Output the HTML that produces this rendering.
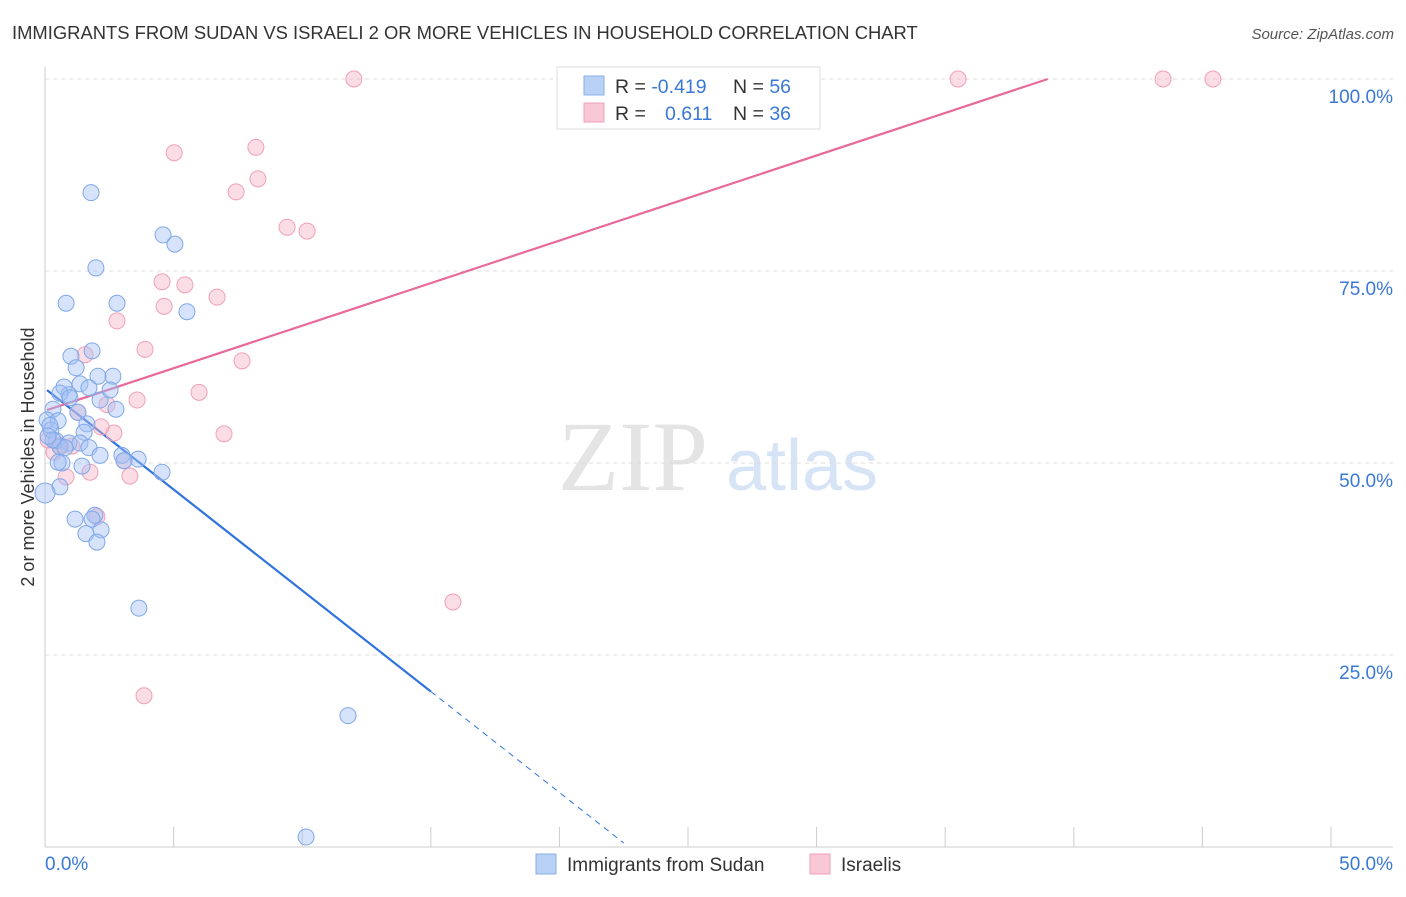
<!DOCTYPE html>
<html><head><meta charset="utf-8"><style>
body{margin:0;background:#fff;font-family:"Liberation Sans",sans-serif;}
</style></head><body>
<svg id="chart" width="1406" height="892" xmlns="http://www.w3.org/2000/svg">
<text x="12" y="39" font-size="18.4" fill="#333">IMMIGRANTS FROM SUDAN VS ISRAELI 2 OR MORE VEHICLES IN HOUSEHOLD CORRELATION CHART</text>
<text x="1394" y="39" font-size="15" fill="#555" font-style="italic" text-anchor="end">Source: ZipAtlas.com</text>
<text x="633" y="490" font-size="100" fill="#e4e4e4" font-family="Liberation Serif,serif" text-anchor="middle">ZIP</text>
<text x="802" y="490" font-size="72" fill="#d6e4f6" text-anchor="middle">atlas</text>
<text transform="translate(34,457) rotate(-90)" font-size="18" fill="#333" text-anchor="middle">2 or more Vehicles in Household</text>
<g id="grid"></g><g id="axes"></g><g id="lines"></g><g id="pts"></g>
<g>
<rect x="557" y="67" width="263" height="62" fill="#fff" stroke="#ddd"/>
<rect x="584" y="76" width="20" height="19" fill="#b9d1f5" stroke="#8ab0e8"/>
<rect x="584" y="103" width="20" height="19" fill="#f9c8d6" stroke="#f0a0b8"/>
<text x="615" y="93" font-size="19.5" fill="#333">R = <tspan fill="#3a78d8">-0.419</tspan></text>
<text x="733" y="93" font-size="19.5" fill="#333">N = <tspan fill="#3a78d8">56</tspan></text>
<text x="615" y="120" font-size="19.5" fill="#333">R = <tspan x="665" fill="#3a78d8">0.611</tspan></text>
<text x="733" y="120" font-size="19.5" fill="#333">N = <tspan fill="#3a78d8">36</tspan></text>
</g>
<g>
<rect x="536" y="854" width="20" height="20" fill="#b9d1f5" stroke="#8ab0e8"/>
<text x="567" y="871" font-size="19" fill="#333">Immigrants from Sudan</text>
<rect x="810" y="854" width="20" height="20" fill="#f9c8d6" stroke="#f0a0b8"/>
<text x="841" y="871" font-size="19" fill="#333">Israelis</text>
</g>
</svg>
<script>
const yTicks=[100,75,50,25];
const yTickLabels=["100.0%","75.0%","50.0%","25.0%"];
const xEndLabels=["0.0%","50.0%"];
const sudanX=[1.79,4.59,5.05,1.98,0.82,2.80,5.52,1.83,1.01,1.21,2.64,2.06,0.74,1.36,1.71,0.93,0.58,2.14,2.76,0.31,1.28,0.08,0.51,1.63,1.52,0.23,0.43,0.93,1.36,1.71,0.58,2.99,3.62,3.07,0.66,1.44,4.55,0.58,0,1.94,1.17,1.83,2.18,1.59,2.02,3.65,11.78,10.15,0.19,0.78,0.97,2.14,0.31,0.12,0.51,2.53];
const sudanY=[85.2,79.7,78.5,75.4,70.8,70.8,69.7,64.6,63.9,62.4,61.3,61.3,59.9,60.3,59.8,58.9,59.1,58.2,57.0,57.0,56.6,55.6,55.5,55.1,54.0,54.3,52.9,52.6,52.6,52.0,52.1,51.0,50.5,50.3,50.0,49.6,48.8,46.9,46.1,43.2,42.7,42.7,41.3,40.8,39.7,31.1,17.1,1.3,54.9,52.0,58.5,51.0,53.0,53.5,50.1,59.5];
const israelX=[12.01,35.5,43.47,45.41,5.02,8.20,8.28,7.43,9.41,10.19,4.55,5.44,6.69,4.63,2.80,3.89,1.56,7.66,5.99,3.58,2.41,1.28,2.68,6.96,2.18,0.12,0.58,1.05,0.35,3.07,3.30,1.75,0.82,2.02,15.86,3.85];
const israelY=[100,100,100,100,90.4,91.1,87.0,85.3,80.7,80.2,73.6,73.2,71.6,70.4,68.5,64.8,64.1,63.3,59.2,58.2,57.6,56.6,53.9,53.8,54.7,53.0,52.3,52.2,51.4,50.3,48.3,48.8,48.2,43.0,31.9,19.7];
const sudanTrend=[59.7,-2.63];
const israelTrend=[56.8,1.108];
const NS="http://www.w3.org/2000/svg";
const X=v=>45+v*25.72, Y=v=>847-v*7.68;
function mk(t,a,p){const e=document.createElementNS(NS,t);for(const k in a)e.setAttribute(k,a[k]);document.getElementById(p).appendChild(e);return e;}
yTicks.forEach((t,i)=>{
 const g=mk('line',{x1:45,x2:1393,y1:Y(t),y2:Y(t),stroke:'#ddd','stroke-dasharray':'4,4'},'grid');
 
 
 const l=mk('text',{x:1393,y:Y(t)+24,'font-size':19,fill:'#3a78d8','text-anchor':'end'},'axes');l.textContent=yTickLabels[i];
 
 
});
let a=mk('line',{x1:45,x2:45,y1:67,y2:847,stroke:'#ccc'},'axes');


a=mk('line',{x1:45,x2:1393,y1:847,y2:847,stroke:'#ccc'},'axes');


for(let i=0;i<=10;i++){const t=mk('line',{x1:X(i*5),x2:X(i*5),y1:827,y2:847,stroke:'#ccc'},'axes');
 
 }
[[0,'start',45],[50,'end',1393]].forEach((d,i)=>{const t=mk('text',{x:d[2],y:870,'font-size':19,fill:'#3a78d8','text-anchor':d[1]},'axes');t.textContent=xEndLabels[i];
 
 });
function ln(x1,x2,tr,c,dash,n){const e=mk('line',{x1:X(x1),x2:X(x2),y1:Y(tr[0]+tr[1]*x1),y2:Y(tr[0]+tr[1]*x2),stroke:c,'stroke-width':dash?1:2.2,'stroke-dasharray':dash?'6,5':'none'},'lines');
 
 }
ln(0.08,15,sudanTrend,'#2f73dc',false,'sudan-trend-line');
ln(15,22.5,sudanTrend,'#2f73dc',true,'sudan-trend-extension');
ln(0.08,(100-israelTrend[0])/israelTrend[1],israelTrend,'#e8699a',false,'israelis-trend-line');
function pts(xs,ys,f,s,n){xs.forEach((x,i)=>{const c=mk('circle',{cx:X(x),cy:Y(ys[i]),r:x===0?10:8,fill:f,stroke:s,'stroke-width':1},'pts');
 
 });}
pts(israelX,israelY,'rgba(246,180,200,0.45)','#f0a0b8','israelis-point');
pts(sudanX,sudanY,'rgba(164,194,244,0.45)','#7fa8e8','sudan-point');
</script>
</body></html>
